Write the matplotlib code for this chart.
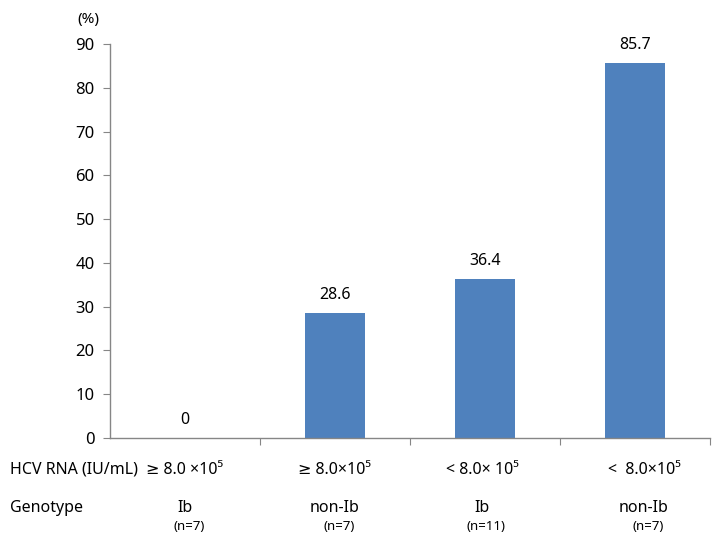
import matplotlib
matplotlib.use("Agg")
import matplotlib.pyplot as plt
import matplotlib.transforms as mtransforms

plt.rcParams["font.family"] = ["Noto Sans", "DejaVu Sans"]

# ---------- Data ----------
hcv_rna = ["\u2265 8.0 \u00d710\u2075", "\u2265 8.0\u00d710\u2075",
           "< 8.0\u00d7 10\u2075", "<  8.0\u00d710\u2075"]
genotype = ["Ib", "non-Ib", "Ib", "non-Ib"]
n_labels = ["(n=7)", "(n=7)", "(n=11)", "(n=7)"]
rates = [0, 28.6, 36.4, 85.7]
value_labels = ["0", "28.6", "36.4", "85.7"]

bar_color = "#4F81BD"
axis_color = "#868686"

fig = plt.figure(figsize=(7.16, 5.46), dpi=100)
ax = fig.add_axes([0.1536, 0.198, 0.838, 0.721])

x = range(len(rates))
ax.bar(x, rates, width=0.4, color=bar_color, zorder=2)

ax.set_xlim(-0.5, 3.5)
ax.set_ylim(0, 90)
ax.set_yticks(range(0, 91, 10))
ax.tick_params(axis="y", labelsize=12, length=5, color=axis_color,
               labelcolor="black", pad=6)
ax.set_xticks([0.5, 1.5, 2.5, 3.5])
ax.set_xticklabels([])
ax.tick_params(axis="x", length=5, color=axis_color)

for side in ["top", "right"]:
    ax.spines[side].set_visible(False)
for side in ["left", "bottom"]:
    ax.spines[side].set_color(axis_color)
    ax.spines[side].set_linewidth(1.0)

# value labels above bars
for xi, v, lab in zip(x, rates, value_labels):
    ax.annotate(lab, (xi, v), xytext=(0, 7), textcoords="offset points",
                ha="center", va="bottom", fontsize=11.5)

# "(%)" unit label
fig.text(88 / 716, 1 - 19 / 546, "(%)", ha="center", va="center", fontsize=11)

# category rows under the axis
trans = mtransforms.blended_transform_factory(ax.transData, fig.transFigure)
row_hcv = 1 - 470 / 546
row_geno = 1 - 508 / 546
row_n = 1 - 527 / 546

fig.text(10 / 716, row_hcv, "HCV RNA (IU/mL)", ha="left", va="center",
         fontsize=11.5)
fig.text(10 / 716, row_geno, "Genotype", ha="left", va="center", fontsize=11.5)

offsets = [0, 0, -0.02, 0.06]
for xi, h, g, n, off in zip(x, hcv_rna, genotype, n_labels, offsets):
    ax.text(xi + off, row_hcv, h, transform=trans, ha="center", va="center",
            fontsize=11.5)
    ax.text(xi + off, row_geno, g, transform=trans, ha="center", va="center",
            fontsize=11.5)
    ax.text(xi + off + 0.03, row_n, n, transform=trans, ha="center",
            va="center", fontsize=9.5)

fig.savefig("out.png", dpi=100)
